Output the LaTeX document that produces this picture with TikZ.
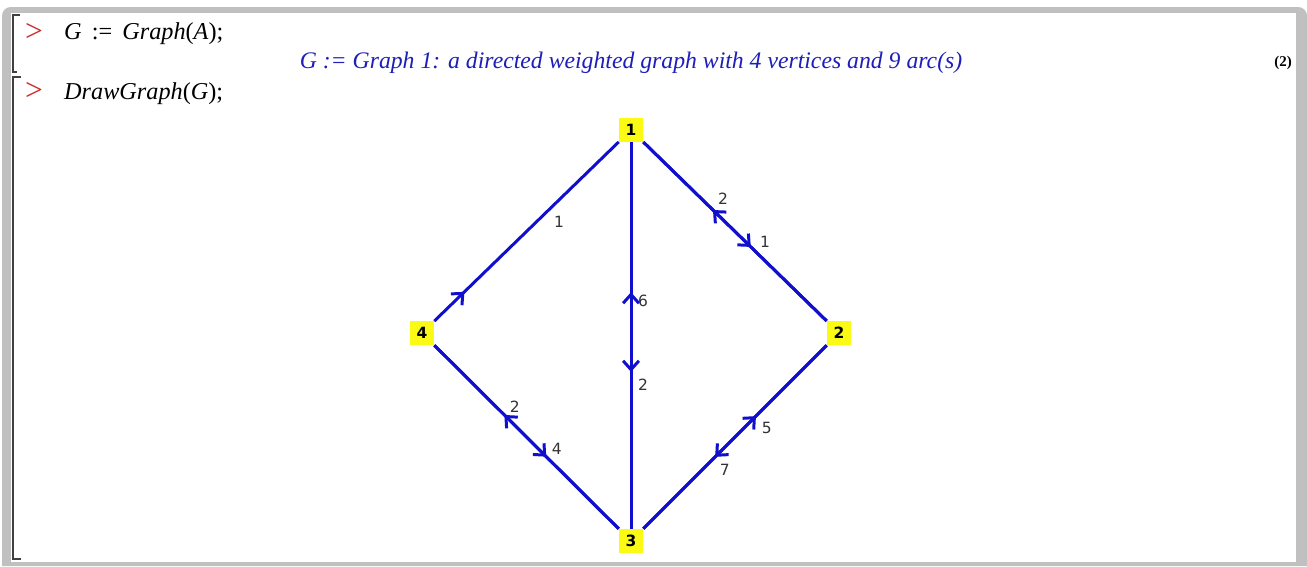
\documentclass[tikz,border=0pt]{standalone}
\usepackage{fontspec}
\setmainfont{Liberation Serif}
\newfontfamily\plotfont{DejaVu Sans}
\usetikzlibrary{arrows.meta,decorations.markings}
\definecolor{edgeblue}{RGB}{15,15,205}
\definecolor{promptred}{RGB}{205,40,40}
\definecolor{outblue}{RGB}{30,30,185}
\definecolor{framegray}{RGB}{192,192,192}
\definecolor{vertyellow}{RGB}{250,250,20}

\begin{document}
\begin{tikzpicture}[
  x=0.02cm, y=-0.02cm,
  vert/.style   = {fill=vertyellow, minimum size=13.6pt, inner sep=0pt,
                   font=\plotfont\bfseries\fontsize{8.8}{10}\selectfont},
  wt/.style     = {font=\plotfont\fontsize{8.8}{10}\selectfont,
                   text=black!80, inner sep=0pt},
  edg/.style    = {draw=edgeblue, line width=1.7pt,
                   postaction={decorate, decoration={markings,
                     mark=at position #1 with {\arrow{Straight Barb[length=5pt,width=9pt]}}}}},
  prompt/.style = {anchor=base west, text=promptred,
                   font=\fontsize{18}{20}\selectfont},
  cmd/.style    = {anchor=base west, font=\fontsize{13.8}{16}\selectfont},
  brk/.style    = {draw=black!75, line width=0.8pt},
]

%% ── WORKSHEET FRAME ─────────────────────────────────────────────────────
\useasboundingbox (0,0) rectangle (1307,566);
\fill[white] (0,0) rectangle (1307,566);
\fill[framegray] (2,566) [rounded corners=5pt] -- (2,7) -- (1307,7)
    [sharp corners] -- (1307,566) -- cycle;
\fill[white] (11,13) rectangle (1296,562);

%% execution group brackets
\draw[brk] (20,15) -- (13,15) -- (13,72) -- (17,72);
\draw[brk] (21,77) -- (13,77) -- (13,559) -- (21,559);

%% ── INPUT / OUTPUT LINES ────────────────────────────────────────────────
\node[prompt] (p1) at (19,41) {>};
\node[cmd]    (c1) at (58,39) {\textit{G}\, :=\, \textit{Graph}(\textit{A});};
\node[anchor=base, text=outblue, font=\itshape\fontsize{13.5}{15}\selectfont]
      (out) at (631,68) {G := Graph 1: a directed weighted graph with 4 vertices and 9 arc(s)};
\node[anchor=base, font=\bfseries\fontsize{8.5}{9}\selectfont] (eqno) at (1283,66) {(2)};
\node[prompt] (p2) at (19,100) {>};
\node[cmd]    (c2) at (58,99) {\textit{DrawGraph}(\textit{G});};

%% ── VERTICES ────────────────────────────────────────────────────────────
\node[vert] (v1) at (631,130) {1};
\node[vert] (v2) at (839,333) {2};
\node[vert] (v3) at (631,541) {3};
\node[vert] (v4) at (422,333) {4};

%% ── WEIGHTED ARCS ───────────────────────────────────────────────────────
\draw[edg=0.163] (v4) -- node[wt, pos=0.553, xshift=12.9pt]{1} (v1);
\draw[edg=0.620] (v2) -- node[wt, pos=0.681, xshift=12.1pt]{2} (v1);
\draw[edg=0.586] (v1) -- node[wt, pos=0.559, xshift=10.9pt]{1} (v2);
\draw[edg=0.612] (v3) -- node[wt, pos=0.589, xshift=6.8pt]{6}  (v1);
\draw[edg=0.594] (v1) -- node[wt, pos=0.628, xshift=6.8pt]{2}  (v3);
\draw[edg=0.620] (v3) -- node[wt, pos=0.663, xshift=10.5pt]{2} (v4);
\draw[edg=0.607] (v4) -- node[wt, pos=0.565, xshift=10.4pt]{4} (v3);
\draw[edg=0.614] (v3) -- node[wt, pos=0.549, xshift=13pt]{5}   (v2);
\draw[edg=0.608] (v2) -- node[wt, pos=0.680, xshift=13pt]{7}   (v3);

\end{tikzpicture}
\end{document}
